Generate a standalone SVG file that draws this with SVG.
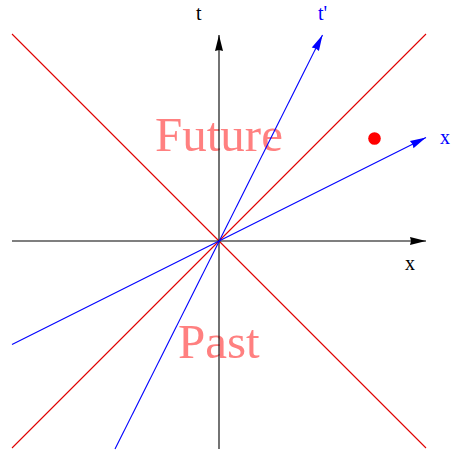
<svg xmlns="http://www.w3.org/2000/svg" width="451" height="454" viewBox="0 0 451 454">
<style>
.lbl{font-family:"Liberation Serif","Times New Roman",serif;font-size:20px}
.big{font-family:"Liberation Serif","Times New Roman",serif;font-size:49px;fill:#ff8080}
.ax{fill:none;stroke-width:1.1}
</style>
<defs>
<marker id="ak" markerUnits="userSpaceOnUse" markerWidth="18" markerHeight="10" viewBox="-17 -5 18 10" refX="0" refY="0" orient="auto"><path d="M0,0 L-16,-4 L-15,0 L-16,4 Z" fill="#000"/></marker>
<marker id="ab" markerUnits="userSpaceOnUse" markerWidth="18" markerHeight="10" viewBox="-17 -5 18 10" refX="0" refY="0" orient="auto"><path d="M0,0 L-16,-4 L-15,0 L-16,4 Z" fill="#0000ff"/></marker>
</defs>
<rect width="451" height="454" fill="#fff"/>
<g id="regions">
<text class="big" x="155" y="151">Future</text>
<text class="big" x="178" y="358">Past</text>
</g>
<g id="connectors">
<line class="ax" x1="12" y1="34" x2="426" y2="448" stroke="#e00000"/>
<line class="ax" x1="12" y1="448" x2="426" y2="34" stroke="#e00000"/>
<line class="ax" x1="219" y1="449" x2="219" y2="35" stroke="#000" marker-end="url(#ak)"/>
<line class="ax" x1="12" y1="241" x2="426" y2="241" stroke="#000" marker-end="url(#ak)"/>
<line class="ax" x1="115" y1="449" x2="322.5" y2="35" stroke="#0000ff" marker-end="url(#ab)"/>
<line class="ax" x1="12" y1="344.5" x2="426" y2="137.5" stroke="#0000ff" marker-end="url(#ab)"/>
</g>
<g id="event"><circle cx="374.5" cy="138.5" r="6.3" fill="#ff0000"/></g>
<g id="labels">
<text class="lbl" x="196" y="20" fill="#000">t</text>
<text class="lbl" x="318" y="20" fill="#0000ff">t'</text>
<text class="lbl" x="440" y="144" fill="#0000ff">x</text>
<text class="lbl" x="405" y="270" fill="#000">x</text>
</g>
</svg>
